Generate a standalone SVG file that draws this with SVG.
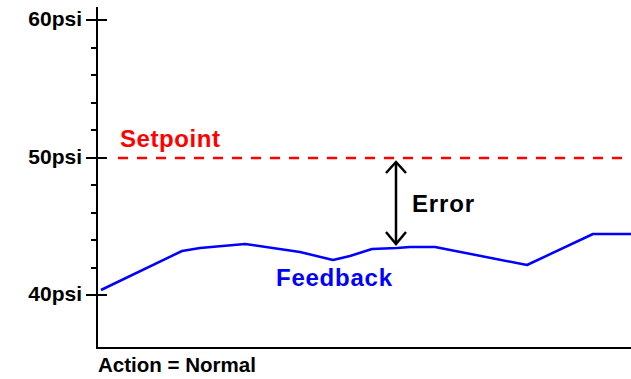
<svg xmlns="http://www.w3.org/2000/svg" width="631" height="379" viewBox="0 0 631 379">
  <style>
    .axis { stroke: #000; stroke-width: 2; fill: none; }
    .tick { stroke: #000; stroke-width: 2; }
    .lbl { font-family: "Liberation Sans", Arial, sans-serif; font-weight: bold; font-size: 21px; fill: #000; }
    .big { font-family: "Liberation Sans", Arial, sans-serif; font-weight: bold; font-size: 24px; }
  </style>
  <rect width="631" height="379" fill="#fff"/>
  <g id="axes">
    <line class="axis" x1="97" y1="7" x2="97" y2="349"/>
    <line class="axis" x1="96" y1="348" x2="631" y2="348"/>
    <line class="tick" x1="86" y1="20" x2="107" y2="20"/>
    <line class="tick" x1="86" y1="158" x2="107" y2="158"/>
    <line class="tick" x1="86" y1="295" x2="107" y2="295"/>
    <line class="tick" x1="91" y1="48" x2="97" y2="48"/>
    <line class="tick" x1="91" y1="75" x2="97" y2="75"/>
    <line class="tick" x1="91" y1="103" x2="97" y2="103"/>
    <line class="tick" x1="91" y1="130" x2="97" y2="130"/>
    <line class="tick" x1="91" y1="185" x2="97" y2="185"/>
    <line class="tick" x1="91" y1="213" x2="97" y2="213"/>
    <line class="tick" x1="91" y1="240" x2="97" y2="240"/>
    <line class="tick" x1="91" y1="268" x2="97" y2="268"/>
  </g>
  <g id="axis-labels">
    <text class="lbl" x="82" y="26" text-anchor="end">60psi</text>
    <text class="lbl" x="82" y="164" text-anchor="end">50psi</text>
    <text class="lbl" x="82" y="301" text-anchor="end">40psi</text>
    <text class="lbl" x="98" y="372" textLength="158" lengthAdjust="spacingAndGlyphs">Action = Normal</text>
  </g>
  <g id="setpoint">
    <line x1="118" y1="158" x2="631" y2="158" stroke="#ff0000" stroke-width="2.5" stroke-dasharray="10 9"/>
    <text class="big" x="120" y="147" fill="#ff0000" textLength="100">Setpoint</text>
  </g>
  <g id="feedback">
    <polyline points="101,290 182,251 200,248 245,244 300,252 333,260 350,256 372,249 397,248 410,247 435,247 527,265 593,234 631,234" fill="none" stroke="#0000ff" stroke-width="2.5" stroke-linejoin="round"/>
    <text class="big" x="276" y="286" fill="#0000ff" textLength="116">Feedback</text>
  </g>
  <g id="error">
    <line x1="396" y1="162" x2="396" y2="244" stroke="#000" stroke-width="2.5"/>
    <polyline points="386,173 396,162 406,173" fill="none" stroke="#000" stroke-width="2.5"/>
    <polyline points="386,232 396,244 406,232" fill="none" stroke="#000" stroke-width="2.5"/>
    <text class="big" x="412" y="212" fill="#000" textLength="62">Error</text>
  </g>
</svg>
